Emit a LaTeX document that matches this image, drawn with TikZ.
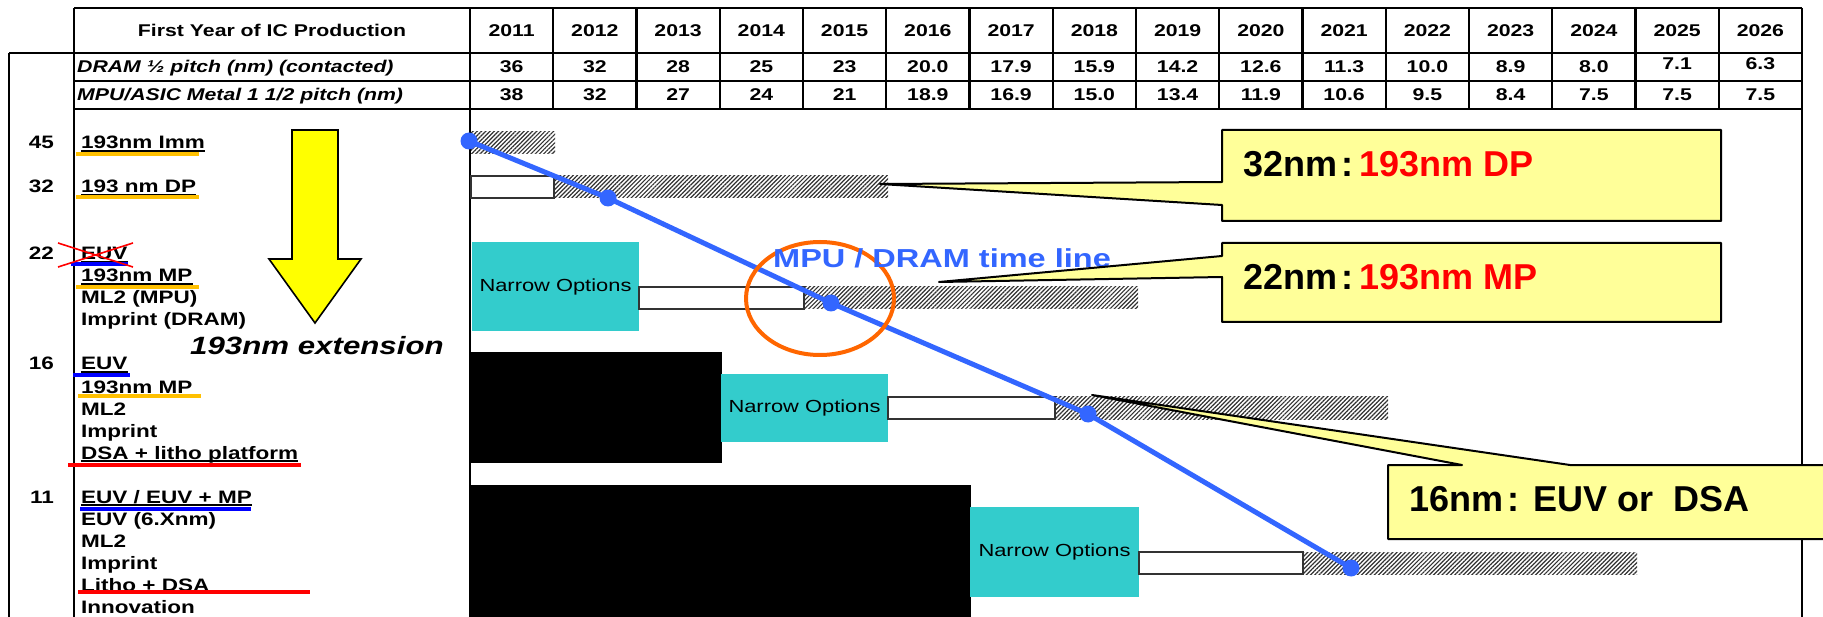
\documentclass[tikz,border=0pt]{standalone}
\usepackage{fontspec}
\setmainfont{Liberation Sans}
\newfontfamily\wfont[FakeStretch=1.25]{Liberation Sans}
\newfontfamily\cfont{Liberation Sans}
\usetikzlibrary{patterns.meta}
\definecolor{tealbox}{RGB}{51,204,204}
\definecolor{lineblue}{RGB}{51,102,255}
\definecolor{calloutfill}{RGB}{255,255,153}
\definecolor{amber}{RGB}{255,192,0}
\definecolor{circorange}{RGB}{255,102,0}
\definecolor{arrowyellow}{RGB}{255,255,0}
\definecolor{hatchgray}{RGB}{50,50,50}
\newcommand\fsz[1]{\fontsize{#1}{#1}\selectfont}
\begin{document}
\begin{tikzpicture}[x=1pt,y=-1pt,
  tbl/.style={line width=2.2pt},
  hdr/.style={font=\wfont\bfseries\fsz{17}, inner sep=0pt, anchor=base},
  val/.style={font=\wfont\bfseries\fsz{17}, inner sep=0pt, anchor=base},
  rowlab/.style={font=\wfont\bfseries\itshape\fsz{17}, inner sep=0pt, anchor=base west},
  lab/.style={font=\wfont\bfseries\fsz{18}, inner sep=0pt, anchor=base west},
  num/.style={font=\wfont\bfseries\fsz{18}, inner sep=0pt, anchor=base east},
  bar/.style={inner sep=0pt, outer sep=0pt, minimum height=22},
  hatchbar/.style={bar, draw=none, pattern={Lines[angle=45,distance=3pt,line width=1.2pt]}, pattern color=hatchgray},
  whitebar/.style={bar, draw=black!80, line width=1.3pt, fill=white},
  optbox/.style={inner sep=0pt, outer sep=0pt, fill=tealbox, font=\wfont\fsz{17.5}},
  blackbox/.style={inner sep=0pt, outer sep=0pt, fill=black},
  ulblack/.style={line width=1.2pt},
  ulcol/.style={line width=4.5pt},
  callbox/.style={fill=calloutfill, draw=black, line width=2pt, line join=round},
  calltext/.style={font=\cfont\bfseries\fsz{36}, inner sep=0pt, anchor=base west},
  dot/.style={fill=lineblue}
]
\useasboundingbox (0,0) rectangle (1823,617);
\fill[white] (0,0) rectangle (1823,617);

% ---------- table ----------
\foreach \yy in {8,53,81,109} \draw[tbl] (74,\yy) -- (1802,\yy);
\draw[tbl] (74,8) -- (74,617);
\draw[tbl] (470,8) -- (470,617);
\draw[tbl] (1802,8) -- (1802,617);
\foreach \k in {1,...,15} \draw[tbl] ({470+83.25*\k},8) -- ({470+83.25*\k},109);
\draw[tbl] (9,53) -- (74,53);
\draw[tbl] (9,53) -- (9,617);

\node[hdr] (head) at (272,37) {First Year of IC Production};
\foreach \yr [count=\i from 0] in {2011,2012,2013,2014,2015,2016,2017,2018,2019,2020,2021,2022,2023,2024,2025,2026}
  \node[hdr] (yr-\i) at ({470+83.25*(\i+0.5)},37) {\yr};
\node[rowlab] (dramlab) at (77,73) {DRAM ½ pitch (nm) (contacted)};
\node[rowlab] (mpulab) at (77,101) {MPU/ASIC Metal 1 1/2 pitch (nm)};
\foreach \v/\dy [count=\i from 0] in {36/0,32/0,28/0,25/0,23/0,20.0/0,17.9/0,15.9/0,14.2/0,12.6/0,11.3/0,10.0/0,8.9/0,8.0/0,7.1/-3,6.3/-3}
  \node[val] (dram-\i) at ({470+83.25*(\i+0.5)},{73+\dy}) {\v};
\foreach \v [count=\i from 0] in {38,32,27,24,21,18.9,16.9,15.0,13.4,11.9,10.6,9.5,8.4,7.5,7.5,7.5}
  \node[val] (mpu-\i) at ({470+83.25*(\i+0.5)},101) {\v};

% ---------- left labels ----------
\node[num] (n45) at (54,149) {45};
\node[lab] (l45) at (81,149) {193nm Imm};
\node[num] (n32) at (54,193) {32};
\node[lab] (l32) at (81,193) {193 nm DP};
\node[num] (n22) at (54,260) {22};
\node[lab] (l22a) at (81,260) {EUV};
\node[lab] (l22b) at (81,282) {193nm MP};
\node[lab] (l22c) at (81,304) {ML2 (MPU)};
\node[lab] (l22d) at (81,326) {Imprint (DRAM)};
\node[num] (n16) at (54,370) {16};
\node[lab] (l16a) at (81,370) {EUV};
\node[lab] (l16b) at (81,393) {193nm MP};
\node[lab] (l16c) at (81,415) {ML2};
\node[lab] (l16d) at (81,437) {Imprint};
\node[lab] (l16e) at (81,459) {DSA + litho platform};
\node[num] (n11) at (54,503) {11};
\node[lab] (l11a) at (81,503) {EUV / EUV + MP};
\node[lab] (l11b) at (81,525) {EUV (6.Xnm)};
\node[lab] (l11c) at (81,547) {ML2};
\node[lab] (l11d) at (81,569) {Imprint};
\node[lab] (l11e) at (81,591) {Litho + DSA};
\node[lab] (l11f) at (81,613) {Innovation};

\foreach \n in {l45,l32,l22a,l22b,l16a,l16b,l16e,l11a}
  \draw[ulblack] ([yshift=-2pt]\n.base west) -- ([yshift=-2pt]\n.base east);

\draw[ulcol,amber] (76,154) -- (199,154);
\draw[ulcol,amber] (76,197) -- (199,197);
\draw[ulcol,amber] (76,287) -- (199,287);
\draw[ulcol,amber] (78,396) -- (201,396);
\draw[ulcol,blue] (71,264) -- (128,264);
\draw[ulcol,blue] (73,375) -- (130,375);
\draw[ulcol,blue] (80,509) -- (251,509);
\draw[ulcol,red] (68,465) -- (301,465);
\draw[ulcol,red] (78,592) -- (310,592);
\draw[red,line width=1.6pt] (58,243) -- (133,267);
\draw[red,line width=1.6pt] (58,267) -- (133,243);

% ---------- yellow arrow ----------
\filldraw[fill=arrowyellow, draw=black, line width=1.6pt, line join=miter]
  (292,130) -- (338,130) -- (338,259) -- (361,259) -- (315,323) -- (269,259) -- (292,259) -- cycle;
\node[font=\wfont\bfseries\itshape\fsz{25}, inner sep=0pt, anchor=base west] (ext) at (190,355) {193nm extension};

% ---------- bars ----------
\node[hatchbar, minimum width=84] (h45) at (513,143) {};
\node[whitebar, minimum width=83] (w32) at (512.5,187) {};
\node[hatchbar, minimum width=334] (h32) at (721,187) {};
\node[optbox, minimum width=167, minimum height=89] (t22) at (555.5,286.5) {Narrow Options};
\node[whitebar, minimum width=165] (w22) at (721.5,298) {};
\node[hatchbar, minimum width=334] (h22) at (971,298) {};
\node[blackbox, minimum width=251, minimum height=111] (k16) at (596.5,407.5) {};
\node[optbox, minimum width=167, minimum height=68] (t16) at (804.5,408) {Narrow Options};
\node[whitebar, minimum width=167] (w16) at (971.5,408) {};
\node[hatchbar, minimum width=333] (h16) at (1221.5,408) {};
\node[blackbox, minimum width=500, minimum height=140] (k11) at (721,555) {};
\node[optbox, minimum width=169, minimum height=90] (t11) at (1054.5,552) {Narrow Options};
\node[whitebar, minimum width=164] (w11) at (1221,563) {};
\node[hatchbar, minimum width=334] (h11) at (1470,563) {};

% ---------- time line ----------
\coordinate (d1) at (469,141);
\coordinate (d2) at (608,198);
\coordinate (d3) at (831,303);
\coordinate (d4) at (1088,414);
\coordinate (d5) at (1351,568);
\draw[lineblue, line width=5pt, line join=round] (d1) -- (d2) -- (d3) -- (d4) -- (d5);
\foreach \d in {d1,d2,d3,d4,d5} \fill[dot] (\d) circle [radius=8.5];

\draw[circorange, line width=4pt] (820,298.5) ellipse [x radius=74, y radius=56.5];
\node[font=\wfont\bfseries\fsz{26}, text=lineblue, inner sep=0pt, anchor=base west] (tl) at (773,268) {MPU / DRAM time line};

% ---------- callouts ----------
\coordinate (tip1) at (880,184);
\coordinate (tip2) at (939,282);
\coordinate (tip3) at (1092,395);
\filldraw[callbox] (1222,130) -- (1721,130) -- (1721,221) -- (1222,221) -- (1222,205) -- (tip1) -- (1222,182) -- cycle;
\filldraw[callbox] (1222,243) -- (1721,243) -- (1721,322) -- (1222,322) -- (1222,277) -- (tip2) -- (1222,256) -- cycle;
\filldraw[callbox] (1388,465) -- (1462,465) -- (tip3) -- (1570,465) -- (1840,465) -- (1840,539) -- (1388,539) -- cycle;
\node[calltext] (c1) at (1243,177) {32nm\hspace{4pt}:\hspace{6pt}\textcolor{red}{193nm DP}};
\node[calltext] (c2) at (1243,290) {22nm\hspace{4pt}:\hspace{6pt}\textcolor{red}{193nm MP}};
\node[calltext] (c3) at (1409,511) {16nm\hspace{4pt}:\hspace{14pt}EUV or\ \ DSA};
\end{tikzpicture}
\end{document}
